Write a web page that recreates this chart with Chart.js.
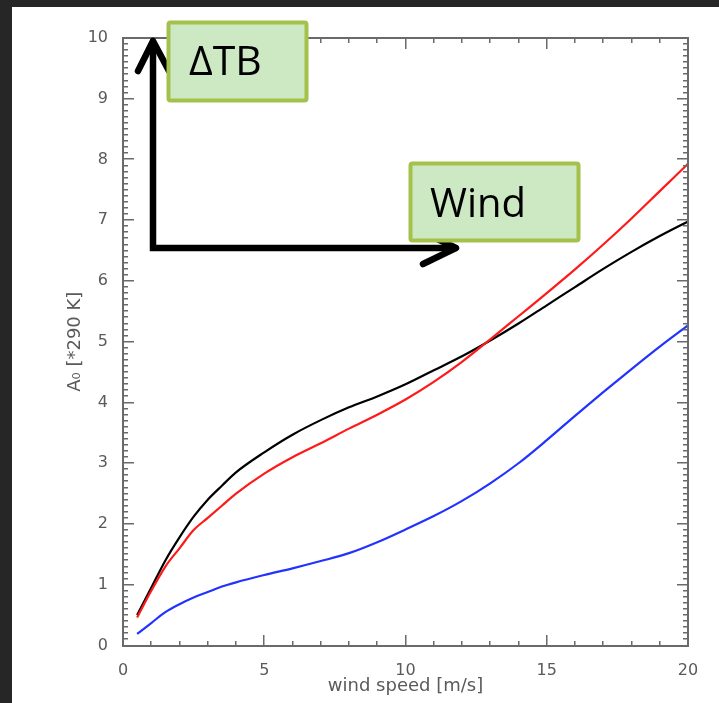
<!DOCTYPE html>
<html>
<head>
<meta charset="utf-8">
<script src="https://cdn.jsdelivr.net/npm/chart.js@4"></script>
<style>
  html, body { margin: 0; padding: 0; background: #262626; width: 719px; height: 703px; overflow: hidden; }
  #panel { position: absolute; left: 12px; top: 7px; right: 0; bottom: 0; background: #fff; }
  #wrap { position: absolute; left: 0; top: 0; width: 719px; height: 703px; }
  #overlay { position: absolute; left: 0; top: 0; pointer-events: none; }
</style>
</head>
<body>
<div id="panel"></div>
<div id="wrap"><canvas id="chart"></canvas></div>
<svg id="overlay" width="719" height="703" xmlns="http://www.w3.org/2000/svg">
  <g fill="none" stroke="#000" stroke-width="6.5" stroke-linecap="round" stroke-linejoin="round">
    <polyline points="153,42 153,248 455,248" stroke-linejoin="miter" stroke-linecap="butt"/>
    <polyline points="138,71 153,41 169,71"/>
    <polyline points="423,264 456,248 423,232"/>
  </g>
  <rect x="168.5" y="22.5" width="138" height="78" rx="2" fill="#cde9c3" stroke="#a4c24b" stroke-width="4"/>
  <text x="189" y="75" font-family="Open Sans" font-size="41" fill="#000">ΔTB</text>
  <rect x="410.5" y="163.5" width="168" height="77" rx="2" fill="#cde9c3" stroke="#a4c24b" stroke-width="4"/>
  <text x="430" y="217" font-family="Open Sans" font-size="40" fill="#000">Wind</text>
</svg>
<script>
// wind speed [m/s]
const windSpeed = [0.5, 1, 1.5, 2, 2.5, 3, 3.5, 4, 5, 6, 7, 8, 9, 10, 11, 12, 13, 14, 15, 16, 17, 18, 19, 20];
// A0 [*290 K] per curve
const a0Black = [0.5, 0.95, 1.4, 1.78, 2.12, 2.4, 2.63, 2.85, 3.18, 3.47, 3.71, 3.92, 4.1, 4.3, 4.53, 4.76, 5.02, 5.3, 5.6, 5.9, 6.2, 6.48, 6.74, 6.98];
const a0Red   = [0.46, 0.9, 1.3, 1.6, 1.9, 2.1, 2.3, 2.5, 2.83, 3.1, 3.33, 3.57, 3.8, 4.05, 4.34, 4.67, 5.04, 5.42, 5.8, 6.19, 6.6, 7.03, 7.48, 7.93];
const a0Blue  = [0.19, 0.37, 0.55, 0.68, 0.79, 0.88, 0.97, 1.04, 1.16, 1.27, 1.39, 1.52, 1.7, 1.91, 2.13, 2.38, 2.67, 3.0, 3.38, 3.78, 4.17, 4.55, 4.92, 5.27];

const xMin = 0, xMax = 20, xMajor = 5, xMinor = 1;
const yMin = 0, yMax = 10, yMajor = 1, yMinor = 0.1;

const axisColor = "#6a6a6a";
const textColor = "#5a5a5a";

const pts = (ys) => windSpeed.map((x, i) => ({ x, y: ys[i] }));

// IDL-style box with inward ticks on all four sides
const idlAxes = {
  id: "idlAxes",
  afterDraw(chart) {
    const ctx = chart.ctx;
    const a = chart.chartArea;
    const xs = chart.scales.x;
    const ys = chart.scales.y;
    const L = Math.round(a.left), R = Math.round(a.right);
    const T = Math.round(a.top), B = Math.round(a.bottom);
    ctx.save();
    ctx.fillStyle = axisColor;
    // frame
    ctx.fillRect(L - 1, T - 1, R - L + 2, 2);
    ctx.fillRect(L - 1, B - 1, R - L + 2, 2);
    ctx.fillRect(L - 1, T - 1, 2, B - T + 2);
    ctx.fillRect(R - 1, T - 1, 2, B - T + 2);
    // x ticks, bottom and top
    const nx = Math.round((xMax - xMin) / xMinor);
    const xEvery = Math.round(xMajor / xMinor);
    for (let i = 0; i <= nx; i++) {
      const px = Math.round(xs.getPixelForValue(xMin + i * xMinor));
      const len = i % xEvery === 0 ? 11 : 5;
      ctx.fillRect(px - 1, B - len, 1.5, len);
      ctx.fillRect(px - 1, T, 1.5, len);
    }
    // y ticks, left and right
    const ny = Math.round((yMax - yMin) / yMinor);
    const yEvery = Math.round(yMajor / yMinor);
    for (let i = 0; i <= ny; i++) {
      const py = Math.round(ys.getPixelForValue(yMin + i * yMinor));
      const len = i % yEvery === 0 ? 11 : 5;
      ctx.fillRect(L, py - 1, len, 1.5);
      ctx.fillRect(R - len, py - 1, len, 1.5);
    }
    ctx.restore();
  },
};

const line = (data, color) => ({
  data: pts(data),
  borderColor: color,
  borderWidth: 2.2,
  pointRadius: 0,
  fill: false,
  cubicInterpolationMode: "monotone",
});

new Chart(document.getElementById("chart"), {
  type: "line",
  data: {
    datasets: [
      line(a0Blue, "#2233ff"),
      line(a0Red, "#ff1a1a"),
      line(a0Black, "#000000"),
    ],
  },
  options: {
    responsive: true,
    maintainAspectRatio: false,
    devicePixelRatio: 1,
    animation: false,
    layout: { padding: { top: 38, right: 31, left: 0, bottom: 0 } },
    plugins: { legend: { display: false }, tooltip: { enabled: false } },
    scales: {
      x: {
        type: "linear",
        min: xMin,
        max: xMax,
        afterFit: (s) => { s.height = 57.5; },
        grid: { display: false },
        border: { display: false },
        ticks: { stepSize: xMajor, color: textColor, font: { family: "DejaVu Sans", size: 16 }, padding: 8, maxRotation: 0 },
        title: { display: true, text: "wind speed [m/s]", color: textColor, font: { family: "DejaVu Sans", size: 18 }, padding: { top: 0, bottom: 6 } },
      },
      y: {
        type: "linear",
        min: yMin,
        max: yMax,
        afterFit: (s) => { s.width = 123; },
        grid: { display: false },
        border: { display: false },
        ticks: { stepSize: yMajor, color: textColor, font: { family: "DejaVu Sans", size: 16 }, padding: 7 },
        title: { display: true, text: "A₀ [*290 K]", color: textColor, font: { family: "DejaVu Sans", size: 18 }, padding: { top: 65, bottom: 0 } },
      },
    },
  },
  plugins: [idlAxes],
});
</script>
</body>
</html>
